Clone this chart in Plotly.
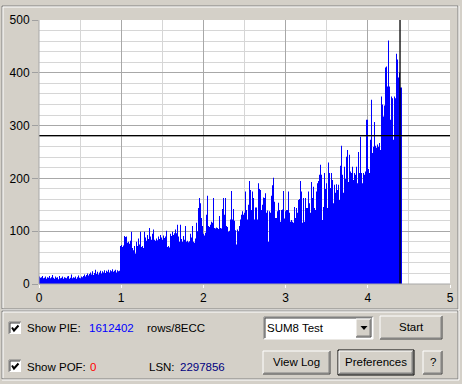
import plotly.graph_objects as go

# ---------------- data ----------------
X_MAX = 5.0                 # axis extent (GB)
BIN = 5.0 / 411             # one sample bin
Y_MAX = 500
CURSOR_X = 4.392
CURSOR_Y = 281

pie_0_1a = [14,12,13,15,11,12,14,10,13,12,15,11,13,17,12,10,14,12,13,9,
            15,11,12,14,10,13,12,11,14,15,10,12,18,11,13,12,14,10,13,16,
            12,11,14,13]
pie_0_1b = [15,18,14,17,20,16,19,22,18,24,17,21,27,19,23,18,22,25,20,24,
            22,26,21,25,23,27,22,26,24,28,23,25,27,22,26,24,25]
pie_1_2 = [72,74,70,73,91,89,90,78,80,76,82,99,68,64,72,58,80,72,86,75,
           99,70,72,68,99,88,82,93,85,106,90,84,95,103,84,82,86,83,90,85,
           93,88,84,92,87,90,101,70,72,69,95,91,99,93,96,103,96,112,90,80,
           112,85,80,91,84,110,80,82,79,81,95,88,110,80,78,86,116,100,144,163,
           153,125,110,95]
pie_2_3 = [92,97,131,167,110,108,112,118,116,163,106,105,107,106,104,129,106,105,142,163,
           131,163,110,108,99,101,122,176,122,142,120,102,75,103,100,110,122,131,138,131,
           135,175,140,122,150,195,178,140,175,163,122,145,145,122,191,180,178,140,150,164,
           163,172,135,139,80,138,135,167,187,201,156,125,125,138,154,140,118,140,141,176,
           124,138]
pie_3_end = [140,140,175,135,118,121,118,116,146,125,144,135,159,161,195,175,116,163,118,163,
             144,144,175,153,135,193,163,184,144,140,175,191,195,207,226,207,121,146,210,180,
             191,144,230,210,182,210,197,153,188,173,189,178,188,159,224,262,207,173,222,199,
             241,254,193,245,213,210,222,197,210,207,222,191,250,210,279,210,191,210,207,213,
             311,311,218,210,273,349,248,260,307,262,258,264,260,267,254,355,340,317,338,410,
             412,374,461,374,311,355,352,273,355,352,436,425,391,400,372,372]

pie = pie_0_1a + pie_0_1b + pie_1_2 + pie_2_3 + pie_3_end

x_tick_vals = [0, 1, 2, 3, 4, 5]
y_tick_vals = [0, 100, 200, 300, 400, 500]

pie_count = "1612402"
pof_count = "0"
lsn_value = "2297856"
test_name = "SUM8 Test"

# ---------------- figure ----------------
xs = []
ys = []
for i, v in enumerate(pie):
    xs.append(i * BIN)
    ys.append(v)
xs.append(len(pie) * BIN)
ys.append(pie[-1])

fig = go.Figure()
fig.add_trace(go.Scatter(
    x=xs, y=ys, mode="lines", line=dict(width=0, shape="hv", color="#0000ff"),
    fill="tozeroy", fillcolor="#0000ff", hoverinfo="skip"))

# cursor cross-hair
fig.add_trace(go.Scatter(x=[CURSOR_X, CURSOR_X], y=[0, Y_MAX], mode="lines",
                         line=dict(color="black", width=1.3), hoverinfo="skip"))
fig.add_trace(go.Scatter(x=[0, X_MAX], y=[CURSOR_Y, CURSOR_Y], mode="lines",
                         line=dict(color="black", width=1.3), hoverinfo="skip"))

BG = "#d4d0c8"
FONT = "Liberation Sans, Arial, sans-serif"

fig.update_layout(
    width=462, height=384,
    margin=dict(l=39, r=12, t=20, b=100, pad=0, autoexpand=False),
    paper_bgcolor=BG, plot_bgcolor="white",
    showlegend=False,
    font=dict(family=FONT, size=12, color="black"),
    xaxis=dict(range=[0, X_MAX], tickvals=x_tick_vals, showgrid=True,
               gridcolor="#a8a8a8", gridwidth=1, automargin=False,
               minor=dict(dtick=0.5, showgrid=True, gridcolor="#d6d6d6"),
               ticks="outside", ticklen=3, tickcolor="white", zeroline=False,
               showline=False, fixedrange=True),
    yaxis=dict(range=[0, Y_MAX], tickvals=y_tick_vals, showgrid=True,
               gridcolor="#a8a8a8", gridwidth=1, automargin=False,
               minor=dict(dtick=20, showgrid=True, gridcolor="#d6d6d6"),
               ticks="outside", ticklen=6, tickcolor="#a0a0a0", zeroline=False,
               showline=False, fixedrange=True),
)


def px(x):
    return (x - 39) / 411.0


def py(y):
    return (284 - y) / 264.0


shapes = []


def line(x0, y0, x1, y1, color, w=1):
    shapes.append(dict(type="line", xref="paper", yref="paper",
                       x0=px(x0), y0=py(y0), x1=px(x1), y1=py(y1),
                       line=dict(color=color, width=w)))


def rect(x0, y0, x1, y1, fill, border=None, w=1):
    shapes.append(dict(type="rect", xref="paper", yref="paper",
                       x0=px(x0), y0=py(y0), x1=px(x1), y1=py(y1),
                       fillcolor=fill, line=dict(color=border or fill, width=w if border else 0),
                       layer="above"))


def etched(x0, y0, x1, y1):
    line(x0, y0, x1, y0, "#808080")
    line(x0, y0, x0, y1, "#808080")
    line(x0, y1, x1, y1, "#808080")
    line(x1, y0, x1, y1, "#808080")
    line(x0 + 1, y0 + 1, x1 - 1, y0 + 1, "white")
    line(x0 + 1, y0 + 1, x0 + 1, y1 - 1, "white")
    line(x0, y1 + 1, x1 + 1, y1 + 1, "white")
    line(x1 + 1, y0, x1 + 1, y1 + 1, "white")


def button(x0, y0, x1, y1, default=False):
    rect(x0, y0, x1, y1, BG)
    if default:
        rect(x0 - 1, y0 - 1, x1 + 1, y1 + 1, "rgba(0,0,0,0)", "black", 1)
    line(x0, y0, x1, y0, "white")
    line(x0, y0, x0, y1, "white")
    line(x0, y1, x1, y1, "#404040")
    line(x1, y0, x1, y1, "#404040")
    line(x0 + 1, y1 - 1, x1 - 1, y1 - 1, "#808080")
    line(x1 - 1, y0 + 1, x1 - 1, y1 - 1, "#808080")


def checkbox(x0, y0):
    rect(x0, y0, x0 + 12, y0 + 12, "white")
    line(x0, y0, x0 + 12, y0, "#808080")
    line(x0, y0, x0, y0 + 12, "#808080")
    line(x0 + 1, y0 + 1, x0 + 11, y0 + 1, "#404040")
    line(x0 + 1, y0 + 1, x0 + 1, y0 + 11, "#404040")
    shapes.append(dict(type="path", xref="paper", yref="paper",
                       path="M %f %f L %f %f L %f %f" % (px(x0 + 3), py(y0 + 5.5), px(x0 + 5), py(y0 + 8.5),
                                                       px(x0 + 9.5), py(y0 + 3.5)),
                       line=dict(color="black", width=2), layer="above"))


# panel frames
etched(2, 6, 458, 309)
etched(2, 311, 458, 379)

# plot frame
line(39, 20, 39, 284, "#a8a8a8")
line(39, 284, 450, 284, "#a8a8a8")

# controls
checkbox(9, 322)
checkbox(9, 360)

# dropdown
rect(264, 317, 373, 339, "white")
line(264, 317, 373, 317, "#808080")
line(264, 317, 264, 339, "#808080")
line(265, 318, 372, 318, "#404040")
line(265, 318, 265, 338, "#404040")
line(264, 339, 373, 339, "white")
line(373, 317, 373, 339, "white")
button(356, 319, 371, 337)
shapes.append(dict(type="path", xref="paper", yref="paper",
                   path="M %f %f L %f %f L %f %f Z" % (px(360.5), py(326), px(367.5), py(326), px(364), py(330)),
                   fillcolor="black", line=dict(color="black", width=0), layer="above"))

button(380, 316, 442, 339)
button(263, 351, 330, 374)
button(339, 351, 413, 374, default=True)
button(423, 351, 442, 374)

fig.update_layout(shapes=shapes)

ann = []


def text(x, y, s, color="black", anchor="left"):
    ann.append(dict(xref="paper", yref="paper", x=px(x), y=py(y), text=s, showarrow=False,
                    xanchor=anchor, yanchor="middle", borderpad=0,
                    font=dict(family=FONT, size=11.5, color=color)))


text(26, 328, "Show PIE:")
text(88, 328, pie_count, "#0000ff")
text(146, 328, "rows/8ECC")
text(26, 367, "Show POF:")
text(89, 367, pof_count, "#ff0000")
text(148, 367, "LSN:")
text(179, 367, lsn_value, "#000080")
text(266, 328, test_name)
text(411, 327, "Start", anchor="center")
text(296.5, 362, "View Log", anchor="center")
text(376, 362, "Preferences", anchor="center")
text(432.5, 362, "?", anchor="center")

fig.update_layout(annotations=ann)

fig.write_html("out.html")
